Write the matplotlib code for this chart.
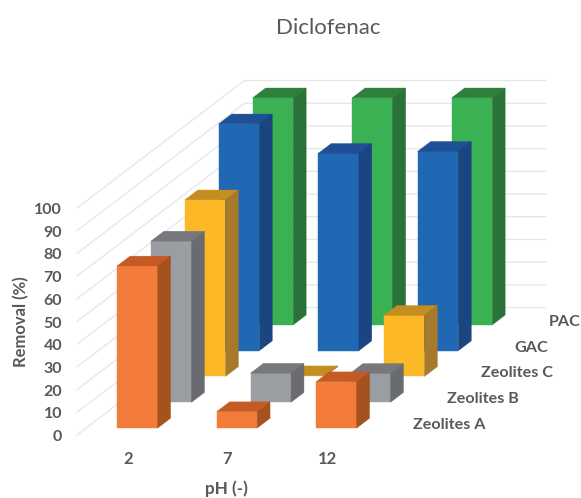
import matplotlib
matplotlib.use("Agg")
import matplotlib.pyplot as plt
from matplotlib.patches import Polygon

plt.rcParams["font.family"] = ["Lato", "DejaVu Sans"]

ph_labels = ["2", "7", "12"]
series_names = ["Zeolites A", "Zeolites B", "Zeolites C", "GAC", "PAC"]
zeolites_a = [71.4, 7.2, 20.4]
zeolites_b = [71.0, 12.8, 12.7]
zeolites_c = [77.8, 0.3, 26.9]
gac = [99.9, 86.9, 87.8]
pac = [100, 100, 100]
y_ticks = [0, 10, 20, 30, 40, 50, 60, 70, 80, 90, 100]

series_values = [zeolites_a, zeolites_b, zeolites_c, gac, pac]
# front, top, side
series_colors = [
    ("#F47C3B", "#C65A24", "#A5521F"),
    ("#9A9DA1", "#76787C", "#6A6B70"),
    ("#FDB827", "#C48E20", "#A67A2A"),
    ("#2068B4", "#1F4F94", "#1A4580"),
    ("#3AB254", "#2E7F3C", "#2B7238"),
]
TEXT = "#595959"

# oblique projection, everything in pixels of the 581x498 canvas
X0, Y0 = 77.0, 435.0
UNIT_Y = 2.27
STEP_CAT = 99.5
DEPTH_X, DEPTH_Y = 33.9, 25.8
WALL_DEPTH = 4.94
WALL_W = 301.4
BAR_LEFT = 31.0
BAR_W = 40.5
BAR_D = 0.38
FIRST_DEPTH = 0.27


def proj(x, value, depth):
    return (X0 + x + depth * DEPTH_X, Y0 - value * UNIT_Y - depth * DEPTH_Y)


def draw_bar(ax, x, value, depth, colors):
    front, top, side = colors
    x1 = x + BAR_W
    d1 = depth + BAR_D
    faces = [
        ([proj(x, 0, depth), proj(x1, 0, depth), proj(x1, value, depth), proj(x, value, depth)], front),
        ([proj(x, value, depth), proj(x1, value, depth), proj(x1, value, d1), proj(x, value, d1)], top),
        ([proj(x1, 0, depth), proj(x1, 0, d1), proj(x1, value, d1), proj(x1, value, depth)], side),
    ]
    for pts, color in faces:
        ax.add_patch(Polygon(pts, closed=True, facecolor=color, edgecolor=color, lw=0.3, zorder=3))


fig = plt.figure(figsize=(5.81, 4.98), dpi=100)
ax = fig.add_axes([0, 0, 1, 1])
ax.set_xlim(0, 581)
ax.set_ylim(498, 0)
ax.axis("off")

# side wall and back wall gridlines
for t in y_ticks:
    pts = [proj(0, t, 0), proj(0, t, WALL_DEPTH), proj(WALL_W, t, WALL_DEPTH)]
    ax.plot([p[0] for p in pts], [p[1] for p in pts], color="#E2E7E7", lw=0.9, zorder=1)
    ax.text(62, proj(0, t, 0)[1] + 2, str(t), ha="right", va="center",
            fontsize=11.5, fontweight="bold", color=TEXT)

# back series first so the front ones overlap them
for s in range(len(series_values) - 1, -1, -1):
    depth = FIRST_DEPTH + s
    for c, val in enumerate(series_values[s]):
        draw_bar(ax, BAR_LEFT + c * STEP_CAT, val, depth, series_colors[s])
    lx, ly = proj(0, 0, depth)
    ax.text(lx + 327, ly - 3, series_names[s], ha="left", va="center",
            fontsize=11.6, fontweight="bold", color=TEXT)

for c, label in enumerate(ph_labels):
    ax.text(128 + c * STEP_CAT, 459, label, ha="center", va="center",
            fontsize=12, fontweight="bold", color=TEXT)

ax.text(328, 28, "Diclofenac", ha="center", va="center", fontsize=16, color=TEXT)
ax.text(226, 489, "pH (-)", ha="center", va="center", fontsize=12.3, fontweight="bold", color=TEXT)
ax.text(21, 322, "Removal (%)", rotation=90, ha="center", va="center",
        fontsize=12, fontweight="bold", color=TEXT)

fig.savefig("out.png", dpi=100)
